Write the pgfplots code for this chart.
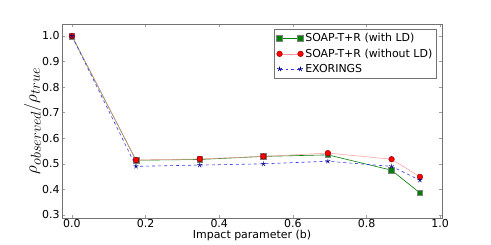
\documentclass[border=0pt]{standalone}
\usepackage{pgfplots}
\pgfplotsset{compat=1.18}
\usepackage{fontspec}
\setmainfont{DejaVu Sans}
\definecolor{mgreen}{rgb}{0,0.5,0}
\definecolor{framegray}{rgb}{0.45,0.45,0.45}
\definecolor{pinkline}{rgb}{1,0.6,0.6}
\begin{document}
\begin{tikzpicture}[x=1bp,y=1bp]
\path[use as bounding box] (-62,-26) rectangle (429,218);
\begin{axis}[
  at={(0,0)}, anchor=south west,
  scale only axis, width=380bp, height=194bp,
  xmin=-0.027, xmax=1.005, ymin=0.288, ymax=1.047,
  xtick={0,0.2,0.4,0.6,0.8,1.0},
  ytick={0.3,0.4,0.5,0.6,0.7,0.8,0.9,1.0},
  xticklabel style={/pgf/number format/fixed,/pgf/number format/fixed zerofill,/pgf/number format/precision=1, yshift=2bp},
  yticklabel style={/pgf/number format/fixed,/pgf/number format/fixed zerofill,/pgf/number format/precision=1, xshift=1bp},
  /pgf/number format/assume math mode=true,
  tick label style={font=\fontsize{11}{12}\selectfont},
  tick align=inside, major tick length=3bp,
  tick style={framegray!70, line width=0.4pt},
  axis line style={framegray, line width=0.8pt},
  xtick pos=both, ytick pos=both,
  xticklabel pos=lower, yticklabel pos=left,
  xlabel={Impact parameter (b)},
  xlabel style={font=\fontsize{11}{12}\selectfont, yshift=4.5bp},
  ylabel={\fontsize{19}{21}\selectfont$\rho_{observed}/\rho_{true}$},
  ylabel style={yshift=-6bp},
  legend image code/.code={\draw[#1] plot coordinates {(0bp,0bp) (21bp,0bp)};},
  legend style={at={(0.987,0.975)}, anchor=north east, font=\fontsize{11}{12}\selectfont,
    draw=framegray, line width=0.6pt, row sep=1.5bp, inner sep=2.5bp,
    cells={anchor=west}},
  legend cell align=left,
]
\addplot[mgreen, line width=0.6pt, mark=square*, mark size=2.8bp,
  mark options={fill=mgreen, draw=gray, solid}] coordinates {
  (0,1.0) (0.174,0.514) (0.347,0.517) (0.52,0.529) (0.695,0.535) (0.868,0.475) (0.945,0.386)};
\addlegendentry{SOAP-T+R (with LD)}
\addplot[pinkline, line width=0.5pt, mark=*, mark size=2.8bp,
  mark options={fill=red, draw=red!60!black, solid}] coordinates {
  (0,1.0) (0.174,0.515) (0.347,0.519) (0.52,0.529) (0.695,0.542) (0.868,0.518) (0.945,0.449)};
\addlegendentry{SOAP-T+R (without LD)}
\addplot[blue!80, dashed, line width=0.6pt, mark=star, mark size=2.5bp,
  mark options={draw=blue!50!black, fill=blue!50!black, solid}] coordinates {
  (0,1.0) (0.174,0.490) (0.347,0.495) (0.52,0.500) (0.695,0.510) (0.868,0.490) (0.945,0.436)};
\addlegendentry{EXORINGS}
\end{axis}
\end{tikzpicture}
\end{document}
